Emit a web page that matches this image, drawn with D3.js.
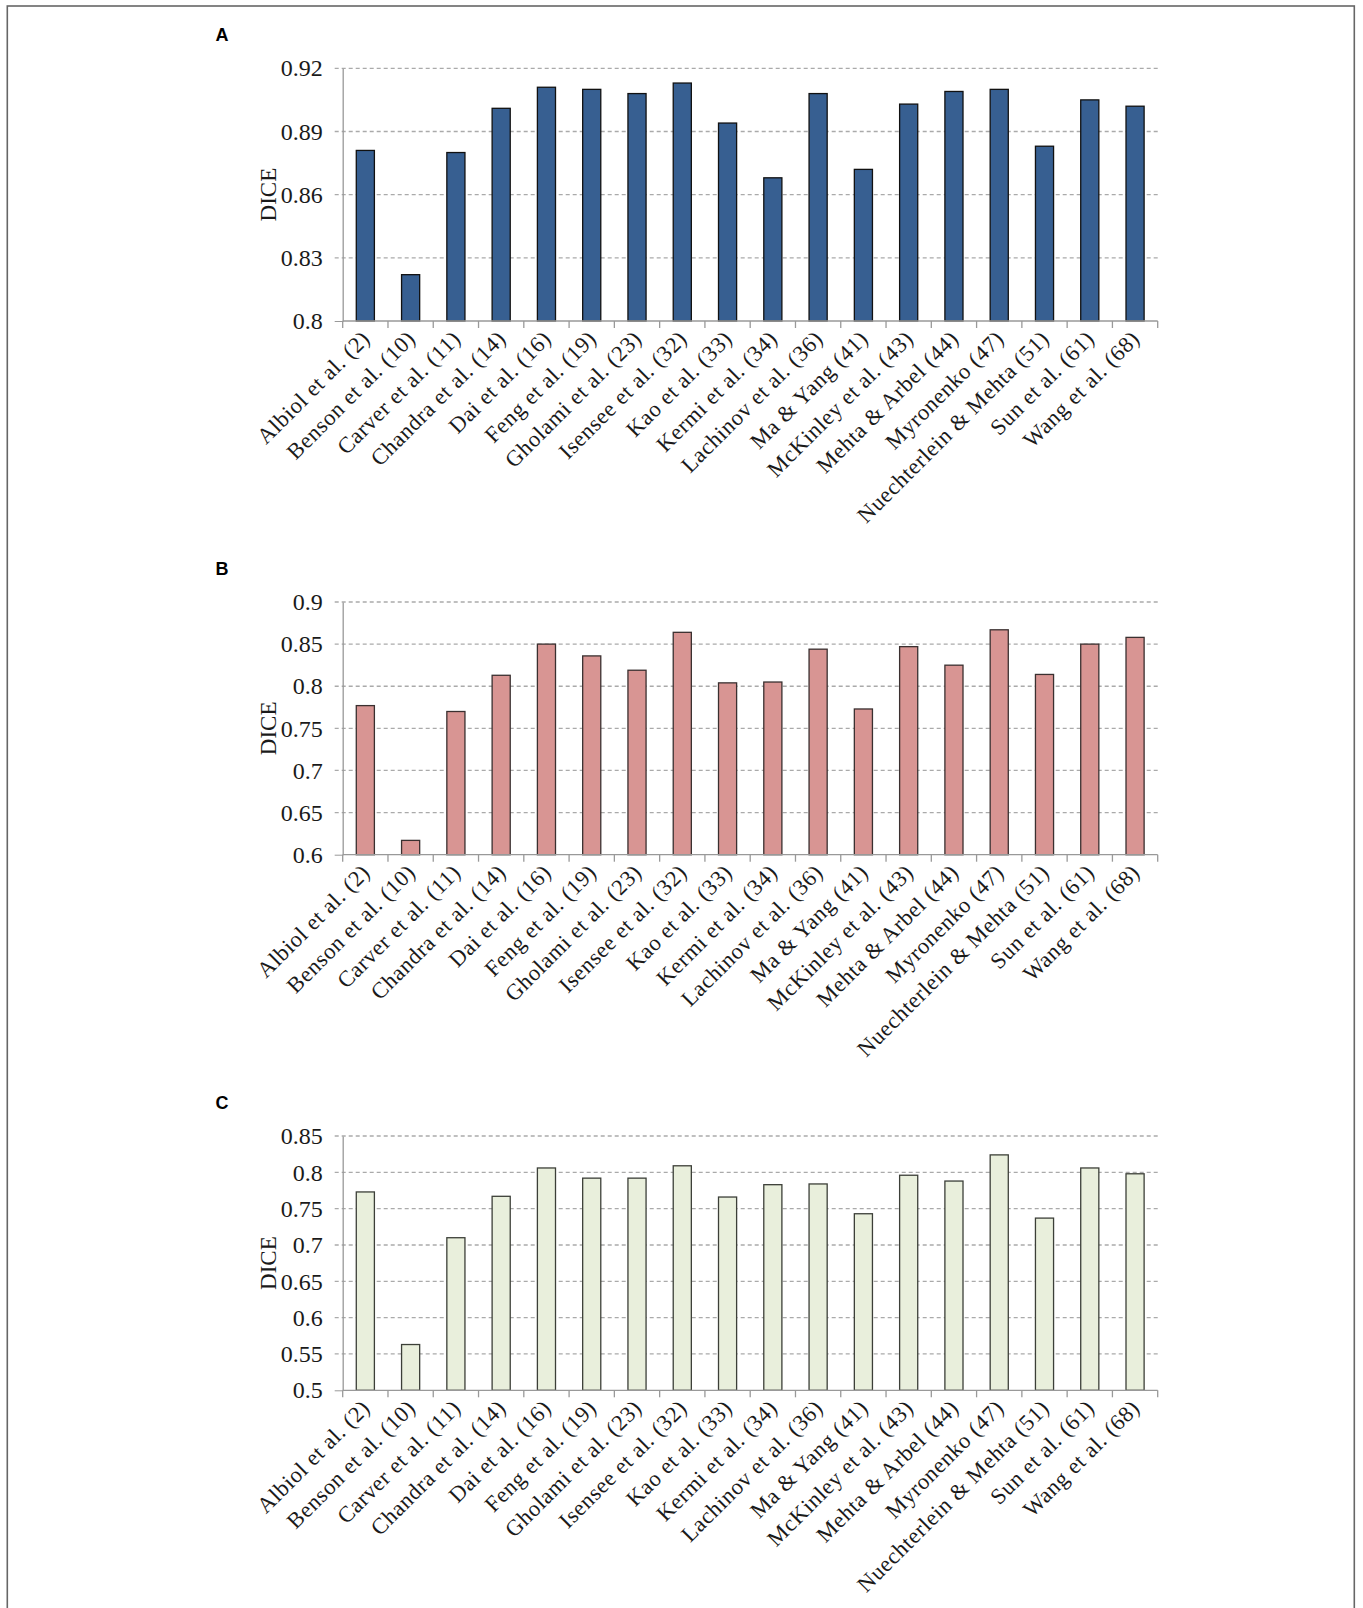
<!DOCTYPE html>
<html>
<head>
<meta charset="utf-8">
<script src="https://cdn.jsdelivr.net/npm/d3@7"></script>
<style>
  body { margin: 0; background: #fff; overflow: hidden; }
  svg { display: block; }
</style>
</head>
<body>
<svg></svg>
<script>
let methods = ["Albiol et al. (2)", "Benson et al. (10)", "Carver et al. (11)", "Chandra et al. (14)",
  "Dai et al. (16)", "Feng et al. (19)", "Gholami et al. (23)", "Isensee et al. (32)", "Kao et al. (33)",
  "Kermi et al. (34)", "Lachinov et al. (36)", "Ma & Yang (41)", "McKinley et al. (43)", "Mehta & Arbel (44)",
  "Myronenko (47)", "Nuechterlein & Mehta (51)", "Sun et al. (61)", "Wang et al. (68)"];

let diceA = [0.881, 0.822, 0.880, 0.901, 0.911, 0.910, 0.908, 0.913, 0.894,
             0.868, 0.908, 0.872, 0.903, 0.909, 0.910, 0.883, 0.905, 0.902];
let diceB = [0.777, 0.617, 0.770, 0.813, 0.850, 0.836, 0.819, 0.864, 0.804,
             0.805, 0.844, 0.773, 0.847, 0.825, 0.867, 0.814, 0.850, 0.858];
let diceC = [0.773, 0.563, 0.710, 0.767, 0.806, 0.792, 0.792, 0.809, 0.766,
             0.783, 0.784, 0.743, 0.796, 0.788, 0.824, 0.737, 0.806, 0.798];

let ticksA = [0.8, 0.83, 0.86, 0.89, 0.92];
let ticksB = [0.6, 0.65, 0.7, 0.75, 0.8, 0.85, 0.9];
let ticksC = [0.5, 0.55, 0.6, 0.65, 0.7, 0.75, 0.8, 0.85];

let width = 1363, height = 1608,
    left = 342.7, right = 1157.7,
    serif = "'Liberation Serif', 'Times New Roman', serif";

let panels = [
  {name: "A", values: diceA, ticks: ticksA, top: 68.3, bottom: 321, fill: "#375f91", stroke: "#111"},
  {name: "B", values: diceB, ticks: ticksB, top: 602, bottom: 854.7, fill: "#d89593", stroke: "#3a3030"},
  {name: "C", values: diceC, ticks: ticksC, top: 1136, bottom: 1390.3, fill: "#e9efdc", stroke: "#3c3f38"}
];

let svg = d3.select("svg")
    .attr("width", width)
    .attr("height", height);

// outer frame
svg.append("rect")
  .attr("x", 7.3).attr("y", 6)
  .attr("width", 1354.3 - 7.3).attr("height", height + 20)
  .attr("fill", "none")
  .attr("stroke", "#666")
  .attr("stroke-width", 1.6);

let xScale = d3.scaleBand().domain(methods).range([left, right]).paddingInner(0.6).paddingOuter(0.3);

panels.forEach(p => {
  let yScale = d3.scaleLinear()
      .domain(d3.extent(p.ticks))
      .range([p.bottom, p.top]);

  let g = svg.append("g");

  // gridlines
  g.append("g")
    .selectAll("line")
    .data(p.ticks.slice(1))
    .enter()
    .append("line")
    .attr("x1", left - 8).attr("x2", right + 2)
    .attr("y1", d => yScale(d)).attr("y2", d => yScale(d))
    .attr("stroke", "#aaa")
    .attr("stroke-width", 1.3)
    .attr("stroke-dasharray", "4,3");

  // y axis
  let yAxis = d3.axisLeft(yScale).tickValues(p.ticks).tickSize(8).tickSizeOuter(0).tickFormat(d => +d.toFixed(2));
  let ya = g.append("g")
    .attr("transform", `translate(${left},0)`)
    .call(yAxis);
  ya.select(".domain").attr("stroke", "#999").attr("stroke-width", 1.3);
  ya.selectAll(".tick line").attr("stroke", d => d === p.ticks[0] ? "#999" : "none");
  ya.selectAll(".tick text")
    .attr("x", -20)
    .attr("fill", "#1a1a1a")
    .style("font-family", serif)
    .style("font-size", "24px");

  // bars
  g.append("g")
    .selectAll("rect")
    .data(p.values)
    .enter()
    .append("rect")
    .attr("x", (d, i) => xScale(methods[i]))
    .attr("width", xScale.bandwidth())
    .attr("y", d => yScale(d))
    .attr("height", d => yScale(p.ticks[0]) - yScale(d))
    .attr("fill", p.fill)
    .attr("stroke", p.stroke)
    .attr("stroke-width", 1.3);

  // x axis with ticks at category boundaries
  let step = (right - left) / methods.length;
  let edges = d3.range(methods.length + 1).map(i => left + i * step);
  g.append("line")
    .attr("x1", left).attr("x2", right)
    .attr("y1", p.bottom).attr("y2", p.bottom)
    .attr("stroke", "#999").attr("stroke-width", 1.3);
  g.append("g")
    .selectAll("line")
    .data(edges)
    .enter()
    .append("line")
    .attr("x1", d => d).attr("x2", d => d)
    .attr("y1", p.bottom).attr("y2", p.bottom + 7)
    .attr("stroke", "#999").attr("stroke-width", 1.3);

  g.append("g")
    .selectAll("text")
    .data(methods)
    .enter()
    .append("text")
    .attr("transform", d => `translate(${xScale(d) + xScale.bandwidth() / 2 + 6},${p.bottom + 19}) rotate(-45)`)
    .attr("text-anchor", "end")
    .attr("fill", "#1a1a1a")
    .style("font-family", serif)
    .style("font-size", "22.5px")
    .style("letter-spacing", "0.6px")
    .text(d => d);

  // y label
  g.append("text")
    .attr("transform", `translate(268,${(p.top + p.bottom) / 2}) rotate(-90)`)
    .attr("text-anchor", "middle")
    .attr("dy", "0.35em")
    .attr("fill", "#1a1a1a")
    .style("font-family", serif)
    .style("font-size", "23px")
    .text("DICE");

  // panel letter
  g.append("text")
    .attr("x", 222)
    .attr("y", p.top - 27)
    .attr("text-anchor", "middle")
    .style("font-family", "'Liberation Sans', Arial, sans-serif")
    .style("font-weight", "bold")
    .style("font-size", "18px")
    .text(p.name);
});
</script>
</body>
</html>
